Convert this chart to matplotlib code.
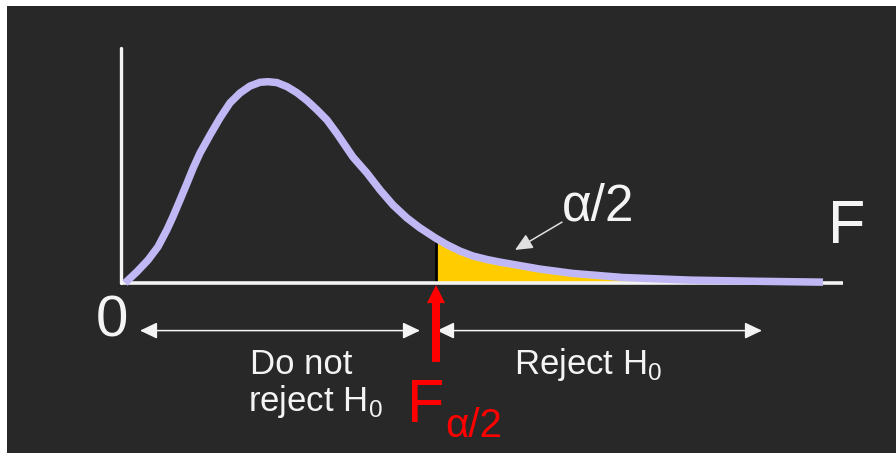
import numpy as np
import matplotlib.pyplot as plt

plt.rcParams['font.family'] = ['Liberation Sans', 'DejaVu Sans']
plt.rcParams['mathtext.fontset'] = 'custom'
plt.rcParams['mathtext.rm'] = 'Liberation Sans'

# ======================
# data (F value, density)
# ======================
f_vals = [0.00, 0.12, 0.23, 0.33, 0.42, 0.48, 0.55, 0.62, 0.68, 0.75,
          0.85, 0.95, 1.05, 1.15, 1.25, 1.35, 1.43, 1.52, 1.62, 1.72,
          1.82, 1.92, 2.02, 2.12, 2.28, 2.42, 2.55, 2.68, 2.82, 2.95,
          3.11, 3.22, 3.35, 3.48, 3.62, 3.75, 3.85, 4.15, 4.48, 4.98,
          5.65, 6.32, 6.98]
dens = [0.000, 0.039, 0.079, 0.125, 0.184, 0.229, 0.286, 0.344, 0.395, 0.448,
        0.510, 0.569, 0.621, 0.655, 0.679, 0.692, 0.694, 0.691, 0.677, 0.656,
        0.629, 0.597, 0.562, 0.515, 0.434, 0.379, 0.321, 0.269, 0.224, 0.190,
        0.154, 0.132, 0.110, 0.093, 0.081, 0.072, 0.066, 0.048, 0.033, 0.019,
        0.010, 0.006, 0.003]
f_crit = 3.11

f_vals = np.array(f_vals)
dens = np.array(dens)

# ======================
# figure
# ======================
fig = plt.figure(figsize=(8.96, 4.53), dpi=100)
fig.patch.set_facecolor('white')
ax = fig.add_axes([7 / 896, 0, 889 / 896, 447 / 453])
ax.set_facecolor('#282828')
ax.set_xticks([])
ax.set_yticks([])
for s in ax.spines.values():
    s.set_visible(False)
ax.set_xlim(-1.18, 7.71)
ax.set_ylim(-0.586, 0.955)

white = '#f4f4f4'
lav = '#c0b8f4'

# rejection region
tail = f_vals >= f_crit
ax.fill_between(f_vals[tail], 0, dens[tail], color='#ffcc00', lw=0, zorder=1)
ax.vlines(f_crit, 0, dens[tail][0], color='black', lw=2.0, zorder=2)

# axes lines
ax.plot([-0.04, 7.18], [0, 0], color=white, lw=2.6, zorder=3, solid_capstyle='butt')
ax.plot([-0.04, -0.04], [0, 0.81], color=white, lw=2.4, zorder=3, solid_capstyle='round')

# density curve
ax.plot(f_vals, dens, color=lav, lw=5.4, zorder=4, solid_capstyle='butt',
        solid_joinstyle='round')

# red arrow at the critical value
ax.annotate('', xy=(f_crit, -0.007), xytext=(f_crit, -0.272),
            arrowprops=dict(arrowstyle='simple,head_length=1.3,head_width=1.3,tail_width=0.58',
                            color='red', lw=0, shrinkA=0, shrinkB=0), zorder=5)

# region arrows
arr = dict(arrowstyle='<|-|>,head_length=1.05,head_width=0.5', color=white,
           lw=1.1, shrinkA=0, shrinkB=0, mutation_scale=10)
ax.annotate('', xy=(0.15, -0.164), xytext=(2.95, -0.164), arrowprops=arr)
ax.annotate('', xy=(3.12, -0.164), xytext=(6.37, -0.164), arrowprops=arr)

# alpha/2 pointer
ax.annotate('', xy=(3.90, 0.114), xytext=(4.37, 0.210),
            arrowprops=dict(arrowstyle='-|>,head_length=1.05,head_width=0.48',
                            color='#e0e0e0', lw=1.1, shrinkA=0, shrinkB=0,
                            mutation_scale=10))

# labels
ax.text(-0.13, -0.183, '0', color=white, fontsize=42, ha='center', va='baseline')
ax.text(7.22, 0.138, 'F', color=white, fontsize=44, ha='center', va='baseline')
ax.text(4.37, 0.217, 'α/2', color=white, fontsize=37, ha='left', va='baseline')
ax.text(1.25, -0.314, 'Do not', color=white, fontsize=25, ha='left', va='baseline')
ax.text(1.23, -0.441, r'reject H$_\mathregular{0}$', color=white, fontsize=25,
        ha='left', va='baseline')
ax.text(3.89, -0.314, r'Reject H$_\mathregular{0}$', color=white, fontsize=25,
        ha='left', va='baseline')
ax.text(2.82, -0.479, 'F', color='red', fontsize=44, ha='left', va='baseline')
ax.text(3.20, -0.531, 'α/2', color='red', fontsize=29, ha='left', va='baseline')

fig.savefig('out.png', dpi=100, facecolor=fig.get_facecolor())
